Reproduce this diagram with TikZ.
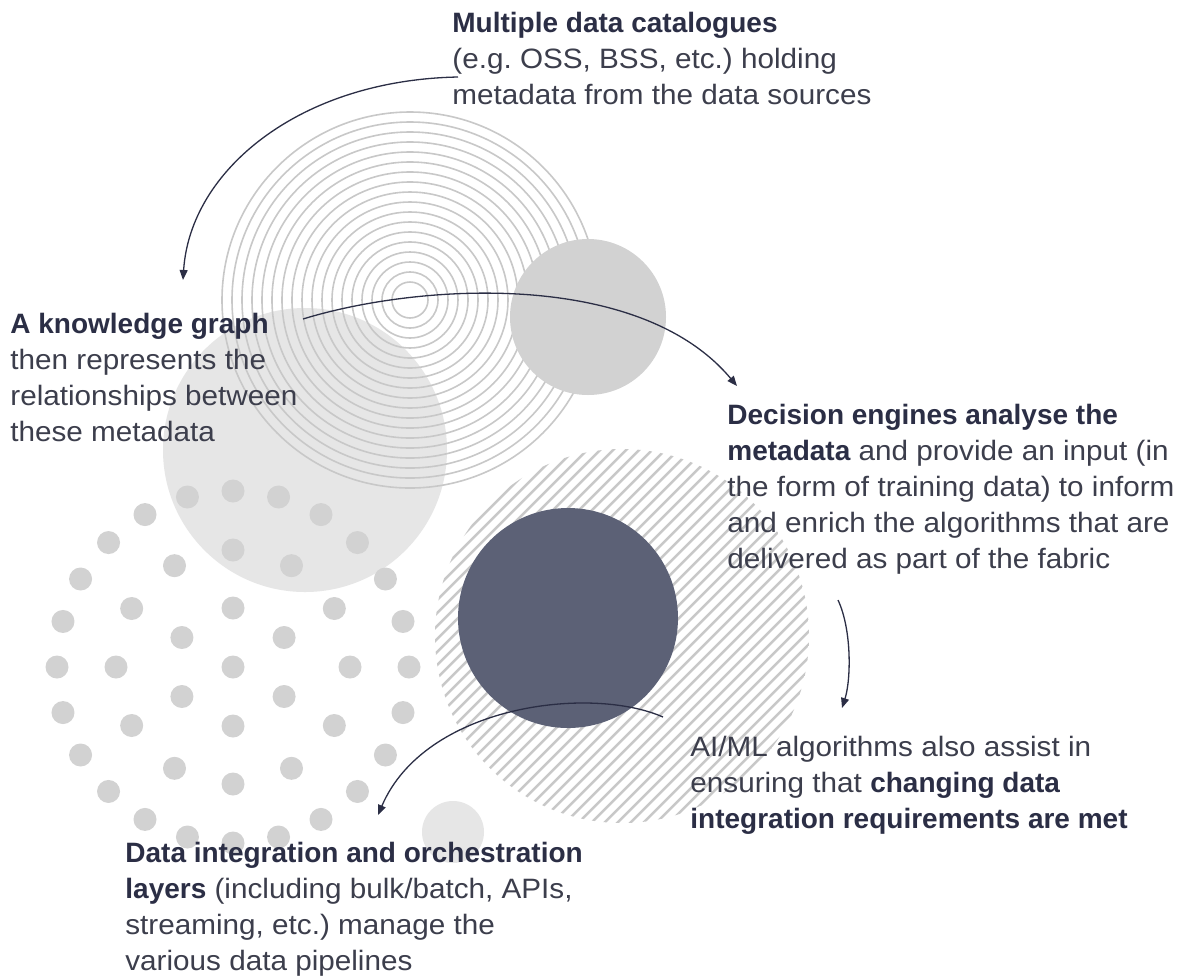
\documentclass[tikz,border=0pt]{standalone}
\usepackage{fontspec}
\setmainfont{Liberation Sans}[UprightFeatures={FakeStretch=1.06}]
\usetikzlibrary{arrows.meta}

\definecolor{ink}{RGB}{43,46,69}
\definecolor{body}{RGB}{60,62,76}
\definecolor{slate}{RGB}{92,97,118}
\definecolor{pale}{RGB}{230,230,230}
\definecolor{mid}{RGB}{210,210,210}
\definecolor{ringgray}{RGB}{200,200,200}
\newcommand{\kw}[1]{{\bfseries\color{ink}#1}}
\frenchspacing

\begin{document}
\begin{tikzpicture}[x=0.5pt,y=-0.5pt,
  ring/.style={draw=ringgray,line width=0.8pt},
  spot/.style={fill=mid},
  hatch/.style={draw=ringgray,line width=1.25pt},
  link/.style={draw=ink,line width=0.65pt,-{Triangle[length=5pt,width=4pt]}},
  blurb/.style={anchor=north west,inner sep=0pt,align=left,text=body,
    font=\fontsize{14}{18}\selectfont}]
\fill[white] (0,0) rectangle (1194,976);
\useasboundingbox (0,0) rectangle (1194,976);

\fill[pale] (305,450) circle (142); % knowledge graph disc
\foreach \r in {18,28,...,188}
  \draw[ring] (410,300) circle (\r); % catalogue rings
\fill[mid] (588,317) circle (78);

% dotted disc
\fill[spot] (233,667) circle (11.5);
\foreach \a in {30,90,...,330}
  \fill[spot] (233,667) ++(\a:59) circle (11.5);
\foreach \a in {0,30,...,330}
  \fill[spot] (233,667) ++(\a:117) circle (11.5);
\foreach \a in {0,15,...,345}
  \fill[spot] (233,667) ++(\a:176) circle (11.5);

% striped disc
\begin{scope}
  \clip (622,636) circle (187);
  \foreach \c in {985,998,...,1535}
    \draw[hatch] ({\c-440},440) -- ({\c-830},830);
\end{scope}

\fill[slate] (568,618) circle (110);
\fill[pale] (453,832) circle (31);

% texts
\node[blurb] (catalogues) at (452,12)
  {\kw{Multiple data catalogues}\\(e.g. OSS, BSS, etc.) holding\\metadata from the data sources};
\node[blurb] (knowledge) at (10,313)
  {\kw{A knowledge graph}\\then represents the\\relationships between\\these metadata};
\node[blurb] (decision) at (727,404)
  {\kw{Decision engines analyse the}\\\kw{metadata} and provide an input (in\\the form of training data) to inform\\and enrich the algorithms that are\\delivered as part of the fabric};
\node[blurb] (aiml) at (690,736)
  {AI/ML algorithms also assist in\\ensuring that \kw{changing data}\\\kw{integration requirements are met}};
\node[blurb] (integration) at (125,842)
  {\kw{Data integration and orchestration}\\\kw{layers} (including bulk/batch, APIs,\\streaming, etc.) manage the\\various data pipelines};

% arrows
\coordinate (cat-tail) at (458,77);
\coordinate (kg-head) at (183,280);
\coordinate (kg-tail) at (303,319);
\coordinate (dec-head) at (737,386);
\coordinate (dec-tail) at (838,600);
\coordinate (ai-head) at (842,708);
\coordinate (ai-tail) at (663,717);
\coordinate (int-head) at (378,815);
\draw[link] (cat-tail) .. controls (300,80) and (190,170) .. (kg-head);
\draw[link] (kg-tail) .. controls (420,283) and (640,270) .. (dec-head);
\draw[link] (dec-tail) .. controls (852,630) and (851,680) .. (ai-head);
\draw[link] (ai-tail) .. controls (590,685) and (425,705) .. (int-head);
\end{tikzpicture}
\end{document}
